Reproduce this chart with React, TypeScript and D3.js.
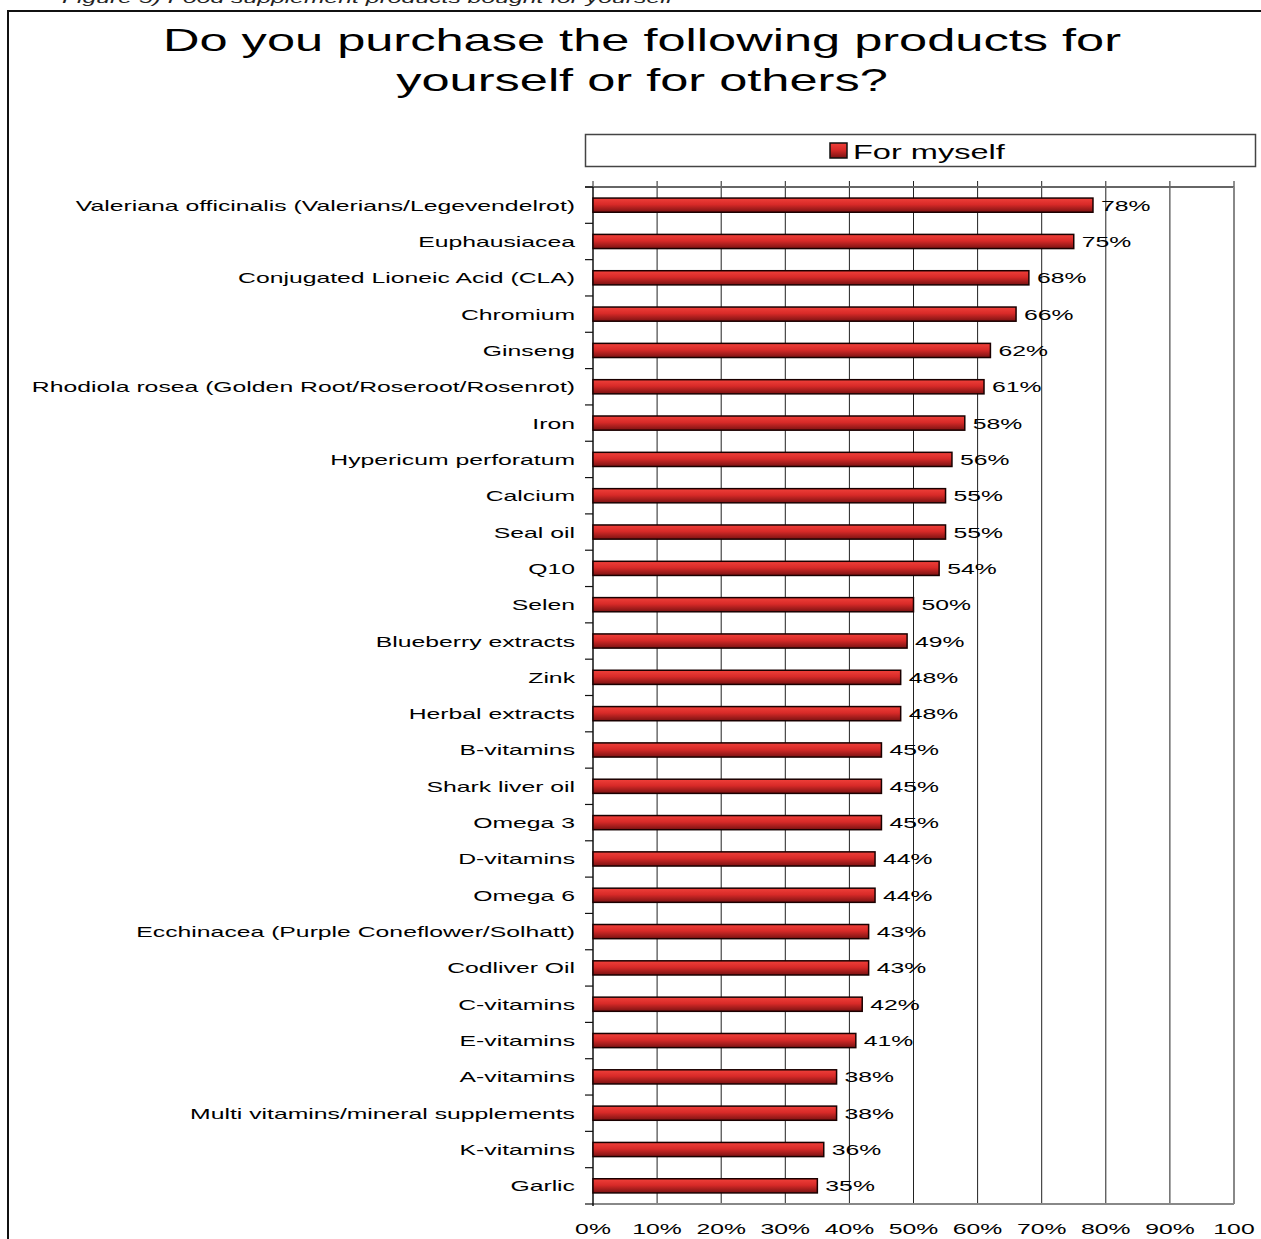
import React from "react";
import * as d3 from "d3";

const categories = [
  "Valeriana officinalis (Valerians/Legevendelrot)",
  "Euphausiacea",
  "Conjugated Lioneic Acid (CLA)",
  "Chromium",
  "Ginseng",
  "Rhodiola rosea (Golden Root/Roseroot/Rosenrot)",
  "Iron",
  "Hypericum perforatum",
  "Calcium",
  "Seal oil",
  "Q10",
  "Selen",
  "Blueberry extracts ",
  "Zink",
  "Herbal  extracts",
  "B-vitamins",
  "Shark liver oil",
  "Omega 3",
  "D-vitamins",
  "Omega 6",
  "Ecchinacea (Purple Coneflower/Solhatt)",
  "Codliver Oil",
  "C-vitamins",
  "E-vitamins",
  "A-vitamins",
  "Multi vitamins/mineral supplements",
  "K-vitamins",
  "Garlic",
];
const forMyself = [78, 75, 68, 66, 62, 61, 58, 56, 55, 55, 54, 50, 49, 48, 48, 45, 45, 45, 44, 44, 43, 43, 42, 41, 38, 38, 36, 35];
const xTicks = [0, 10, 20, 30, 40, 50, 60, 70, 80, 90, 100];
const xTickLabels = ["0%", "10%", "20%", "30%", "40%", "50%", "60%", "70%", "80%", "90%", "100"];
const titleLines = ["Do you purchase the following products for", "yourself or for others?"];
const seriesName = "For myself";
const caption = "Figure 5) Food supplement products bought for yourself";

const W = 1261;
const H = 1239;
const FONT = "'Liberation Sans', Arial, sans-serif";

export default function App() {
  const x = d3.scaleLinear().domain([0, 100]).range([593, 1234]);
  const y = d3.scaleBand<string>().domain(categories).range([187, 1204]).paddingInner(0.61).paddingOuter(0.305);
  const step = y.step();
  const top = 187;
  const bottom = 1204;
  const fs = 15;
  const sx = 1.65;
  const txt = (tx: number, ty: number, s: number) => `translate(${tx},${ty}) scale(${s},1)`;

  return (
    <svg width={W} height={H} style={{ position: "absolute", left: 0, top: 0, background: "#fff" }} fontFamily={FONT}>
      <defs>
        <linearGradient id="barGrad" x1="0" y1="0" x2="0" y2="1">
          <stop offset="0" stopColor="#f0403a" />
          <stop offset="0.45" stopColor="#d82a28" />
          <stop offset="1" stopColor="#7a1212" />
        </linearGradient>
      </defs>
      {/* caption partly above the page */}
      <text transform={txt(62, 3, 1.65)} fontSize={15} fontStyle="italic" fill="#222">{caption}</text>
      {/* outer frame */}
      <rect x={8} y={11} width={1400} height={1400} fill="none" stroke="#111" strokeWidth={2} />
      {/* title */}
      {titleLines.map((t, i) => (
        <text key={i} transform={txt(642, 51 + i * 40, 1.58)} textAnchor="middle" fontSize={32} fill="#000">{t}</text>
      ))}
      {/* legend */}
      <rect x={585.5} y={134.5} width={670} height={32} fill="#fff" stroke="#444" strokeWidth={1.5} />
      <rect x={830} y={143} width={17} height={15} fill="url(#barGrad)" stroke="#111" strokeWidth={1.5} />
      <text transform={txt(853, 159, 1.55)} fontSize={21} fill="#000">{seriesName}</text>
      {/* gridlines */}
      {xTicks.slice(1, -1).map((t) => (
        <line key={t} x1={x(t)} x2={x(t)} y1={top - 6} y2={bottom} stroke="#222" strokeWidth={1} />
      ))}
      <line x1={x(0)} x2={x(0)} y1={top - 6} y2={top} stroke="#222" strokeWidth={1} />
      <line x1={x(100)} x2={x(100)} y1={top - 6} y2={top} stroke="#222" strokeWidth={1} />
      {/* plot top, right, bottom borders */}
      <line x1={585} x2={x(100)} y1={top} y2={top} stroke="#666" strokeWidth={2} />
      <line x1={x(100)} x2={x(100)} y1={top} y2={bottom} stroke="#888" strokeWidth={2} />
      <line x1={x(0)} x2={x(100)} y1={bottom} y2={bottom} stroke="#888" strokeWidth={2} />
      {/* left axis */}
      <line x1={x(0)} x2={x(0)} y1={top} y2={bottom + 2} stroke="#111" strokeWidth={1.5} />
      {d3.range(categories.length + 1).map((i) => (
        <line key={i} x1={585} x2={x(0)} y1={top + i * step} y2={top + i * step} stroke="#111" strokeWidth={1.2} />
      ))}
      {/* bars */}
      {categories.map((c, i) => {
        const v = forMyself[i];
        const yy = y(c)!;
        const bh = y.bandwidth();
        return (
          <g key={c}>
            <rect x={x(0)} y={yy} width={x(v) - x(0)} height={bh} fill="url(#barGrad)" stroke="#1a0000" strokeWidth={1.5} />
            <text transform={txt(x(v) + 8, yy + bh / 2 + 5.5, sx)} fontSize={fs} fill="#000">{v}%</text>
            <text transform={txt(575, yy + bh / 2 + 5.5, sx)} textAnchor="end" fontSize={fs} fill="#000">{c}</text>
          </g>
        );
      })}
      {/* x tick labels */}
      {xTicks.map((t, i) => (
        <text key={t} transform={txt(x(t), 1234, sx)} textAnchor="middle" fontSize={fs} fill="#000">{xTickLabels[i]}</text>
      ))}
    </svg>
  );
}
